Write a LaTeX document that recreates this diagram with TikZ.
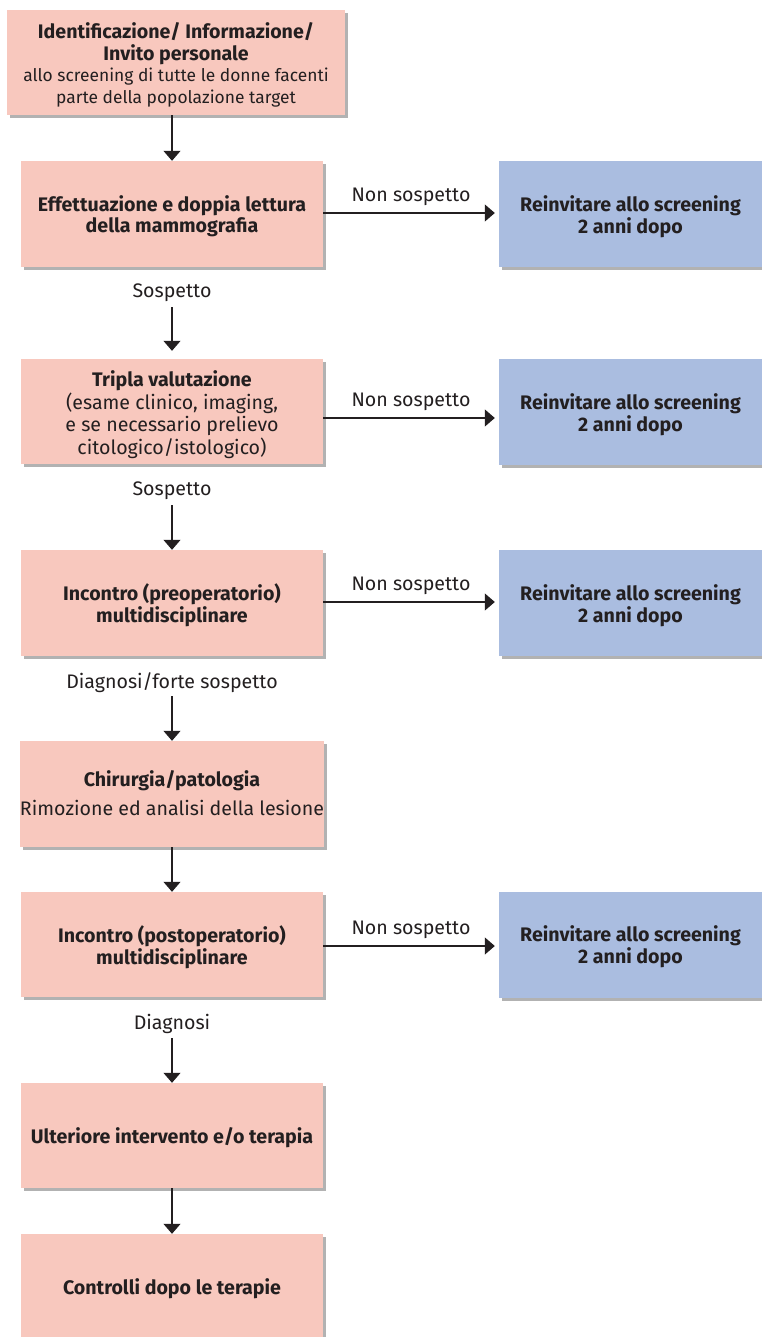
\documentclass[tikz,border=0pt]{standalone}
\usepackage{fontspec}
\setmainfont{Fira Sans}
\usetikzlibrary{arrows.meta,shadows,calc}
\definecolor{pinkbox}{RGB}{248,200,190}
\definecolor{bluebox}{RGB}{170,189,224}
\definecolor{ink}{RGB}{35,31,32}
\newcommand{\smalltxt}{\fontsize{17.4}{21.5}\selectfont}
% lowers the text block a little without changing its reported size
\newcommand{\tb}[2][3.5pt]{\raisebox{-#1}[\height][\depth]{\begin{tabular}{@{}c@{}}#2\end{tabular}}}
\begin{document}
\begin{tikzpicture}[x=1pt,y=-1pt,
  txt/.style={font=\fontsize{19.6}{21.5}\selectfont, text=ink},
  boxbase/.style={txt, inner sep=0pt,
    drop shadow={shadow xshift=3pt, shadow yshift=-3pt, fill=black!60, opacity=0.5}},
  pbox/.style={boxbase, fill=pinkbox, minimum width=302pt, minimum height=106pt},
  bbox/.style={boxbase, fill=bluebox, minimum width=263pt, minimum height=106pt, font=\fontsize{19.6}{21.5}\selectfont\bfseries},
  lbl/.style={txt, inner sep=0pt},
  arr/.style={draw=ink, line width=1.1pt, -{Triangle[length=10pt,width=17pt]}, fill=ink}
]
\clip (0,0) rectangle (762,1337);
\fill[white] (0,0) rectangle (762,1337);

% main column
\node[pbox, minimum width=338pt, minimum height=105pt] (b1) at (176,62.5)
  {\tb{\textbf{Identificazione/ Informazione/}\\\textbf{Invito personale}\\{\smalltxt allo screening di tutte le donne facenti}\\{\smalltxt parte della popolazione target}}};
\node[pbox] (b2) at (172,214) {\tb{\textbf{Effettuazione e doppia lettura}\\\textbf{della mammografia}}};
\node[pbox, minimum height=105pt] (b3) at (172,411.5) {\tb[4.5pt]{\textbf{Tripla valutazione}\\(esame clinico, imaging,\\e se necessario prelievo\\citologico/istologico)}};
\node[pbox] (b4) at (172,603) {\tb{\textbf{Incontro (preoperatorio)}\\\textbf{multidisciplinare}}};
\node[pbox] (b5) at (172,794) {\tb[2pt]{\textbf{Chirurgia/patologia}\\[7pt]Rimozione ed analisi della lesione}};
\node[pbox, minimum height=105pt] (b6) at (172,944.5) {\tb{\textbf{Incontro (postoperatorio)}\\\textbf{multidisciplinare}}};
\node[pbox, minimum height=105pt] (b7) at (172,1135.5) {\tb[3pt]{\textbf{Ulteriore intervento e/o terapia}}};
\node[pbox] (b8) at (172,1287) {\tb[3pt]{\textbf{Controlli dopo le terapie}}};

% right column
\node[bbox] (r1) at (630.5,214) {\tb{Reinvitare allo screening\\2 anni dopo}};
\node[bbox] (r2) at (630.5,412) {\tb{Reinvitare allo screening\\2 anni dopo}};
\node[bbox] (r3) at (630.5,603) {\tb{Reinvitare allo screening\\2 anni dopo}};
\node[bbox] (r4) at (630.5,944.5) {\tb{Reinvitare allo screening\\2 anni dopo}};

% vertical labels
\node[lbl] (s1) at (172,293) {Sospetto};
\node[lbl] (s2) at (172,491) {Sospetto};
\node[lbl] (s3) at (172,683) {Diagnosi/forte sospetto};
\node[lbl] (s4) at (172,1024) {Diagnosi};

% vertical arrows
\draw[arr] (b1.south -| b2.north) -- (b2.north);
\draw[arr] ([yshift=-14pt]s1.center) -- ([yshift=8pt]b3.north);
\draw[arr] ([yshift=-14pt]s2.center) -- (b4.north);
\draw[arr] ([yshift=-13pt]s3.center) -- (b5.north);
\draw[arr] (b5.south) -- (b6.north);
\draw[arr] ([yshift=-14pt]s4.center) -- (b7.north);
\draw[arr] (b7.south) -- (b8.north);

% horizontal arrows
\draw[arr, shorten >=4pt] ([yshift=1pt]b2.east) -- ([yshift=1pt]b2.east -| r1.west)
  node[lbl, midway, yshift=16pt] (n1) {Non sospetto};
\draw[arr, shorten >=4pt] ([yshift=-6.5pt]b3.east) -- ([yshift=-6.5pt]b3.east -| r2.west)
  node[lbl, midway, yshift=16pt] (n2) {Non sospetto};
\draw[arr, shorten >=4pt] ([yshift=1pt]b4.east) -- ([yshift=1pt]b4.east -| r3.west)
  node[lbl, midway, yshift=16pt] (n3) {Non sospetto};
\draw[arr, shorten >=4pt] ([yshift=-1.5pt]b6.east) -- ([yshift=-1.5pt]b6.east -| r4.west)
  node[lbl, midway, yshift=16pt] (n4) {Non sospetto};
\end{tikzpicture}
\end{document}
